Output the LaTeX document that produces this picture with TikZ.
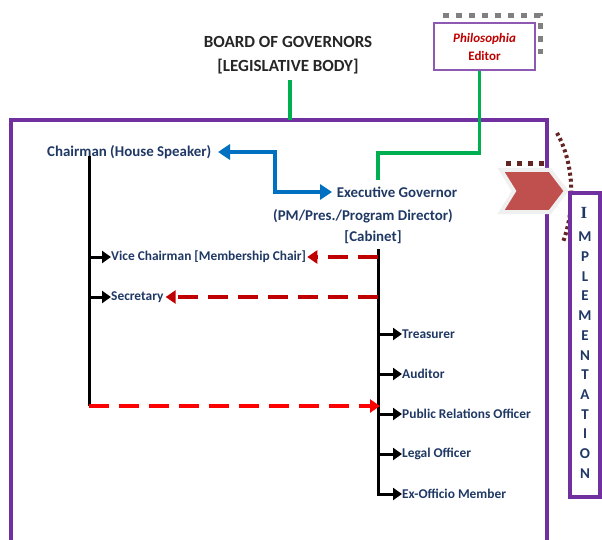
\documentclass[tikz,border=0pt]{standalone}
\usepackage{fontspec}
\setmainfont{Carlito}
\newfontfamily\serifletter{Liberation Serif}
\usetikzlibrary{arrows.meta}
\definecolor{frame}{HTML}{7030A0}
\definecolor{navy}{HTML}{1F3864}
\definecolor{grn}{HTML}{00B050}
\definecolor{blu}{HTML}{0070C0}
\definecolor{darkred}{HTML}{C00000}
\definecolor{chev}{HTML}{C0504D}
\definecolor{shadowbrown}{HTML}{632523}
\tikzset{
  title/.style={font=\bfseries\fontsize{17}{24}\selectfont, text=black!85, align=center, inner sep=0pt},
  bigitem/.style={font=\bfseries\fontsize{14.9}{16}\selectfont, text=navy, inner sep=0pt},
  item/.style={font=\bfseries\fontsize{13.4}{15}\selectfont, text=navy, anchor=west, inner sep=0pt},
  letter/.style={font=\bfseries\fontsize{15}{16}\selectfont, text=navy, inner sep=0pt},
  spine/.style={line width=3pt},
  branch/.style={line width=3pt, -{Triangle[length=9pt,width=12pt]}},
  reddash/.style={line width=4pt, darkred, dash pattern=on 20pt off 10pt, -{Triangle[length=10pt,width=13pt]}},
  greenline/.style={line width=4pt, grn},
}
\begin{document}
\begin{tikzpicture}[x=1pt,y=-1pt]
\useasboundingbox (0,0) rectangle (602,540);
% frame of the board
\draw[frame, line width=4pt] (11,542) -- (11,120) -- (547,120) -- (547,542);
% board title
\node[title] (board) at (288,55) {BOARD OF GOVERNORS\\{}[LEGISLATIVE BODY]};
\coordinate (boardfoot) at (290,80);
\coordinate (frametop) at (290,120);
\draw[greenline] (boardfoot) -- (frametop);
% editor box and its shadow
\draw[gray, line width=5pt, dash pattern=on 6pt off 7pt] (443,16) -- (540,16) -- (540,54);
\node[draw=frame!80, fill=white, line width=1.2pt, minimum width=101pt, minimum height=47pt,
      align=center, text=darkred, font=\bfseries\fontsize{13}{18}\selectfont] (editor) at (484.5,46.5)
      {\itshape Philosophia\\Editor};
% chairman and executive
\node[bigitem, anchor=west] (chair) at (47,152) {Chairman (House Speaker)};
\node[bigitem] (exec) at (397,192) {Executive Governor};
\node[bigitem] (pm) at (363,216) {(PM/Pres./Program Director)};
\node[bigitem] (cab) at (373,237) {[Cabinet]};
\coordinate (exectop) at (378,180);
\draw[greenline, line width=3.5pt] ([xshift=-5pt]editor.south) |- (378,153) -- (exectop);
\draw[blu, line width=4pt, {Triangle[length=12pt,width=15pt]}-{Triangle[length=12pt,width=15pt]}]
  (218,152) -- (275,152) -- (275,192) -- (332,192);
% left spine
\coordinate (ltop) at (89,156);
\coordinate (lbot) at (89,406);
\draw[spine] (ltop) -- (lbot);
\node[item] (vice) at (111,257) {Vice Chairman [Membership Chair]};
\node[item] (sec) at (111,297) {Secretary};
\draw[branch] (89,257) -- (vice.west);
\draw[branch] (89,297) -- (sec.west);
% right spine
\coordinate (rtop) at (378,249);
\node[item] (treas) at (402,334) {Treasurer};
\node[item] (aud) at (402,374) {Auditor};
\node[item] (pro) at (402,414) {Public Relations Officer};
\node[item] (legal) at (402,454) {Legal Officer};
\node[item] (exo) at (402,494) {Ex-Officio Member};
\draw[branch, line join=miter] (rtop) |- (exo.west);
\foreach \n in {treas,aud,pro,legal}
  \draw[branch] (\n.west -| rtop) -- (\n.west);
% dashed links
\draw[reddash] (378,257) -- ([xshift=1pt]vice.east);
\draw[reddash] (378,297) -- ([xshift=2pt]sec.east);
\draw[reddash, red] (lbot) -- (380,406);
% implementation arrow
\draw[shadowbrown, line width=5pt, dash pattern=on 5pt off 6pt] (506,164) -- (546,164);
\draw[shadowbrown, line width=4pt, dash pattern=on 3pt off 3pt] (557,133) .. controls (575,165) and (575,210) .. (563,242);
\filldraw[fill=chev, draw=gray!12, line width=4pt, line join=miter]
  (501,170) -- (550,170) -- (566,191) -- (550,212) -- (501,212) -- (514,191) -- cycle;
% implementation box
\node[draw=frame, line width=3.5pt, fill=white, minimum width=30pt, minimum height=304pt] (impl) at (585,345) {};
\node[letter, font=\serifletter\bfseries\fontsize{17}{17}\selectfont] at (584,213) {I};
\foreach \l [count=\i from 0] in {M,P,L,E,M,E,N,T,A,T,I,O,N}
  \node[letter] at (585,237+19.7*\i) {\l};
\end{tikzpicture}
\end{document}
